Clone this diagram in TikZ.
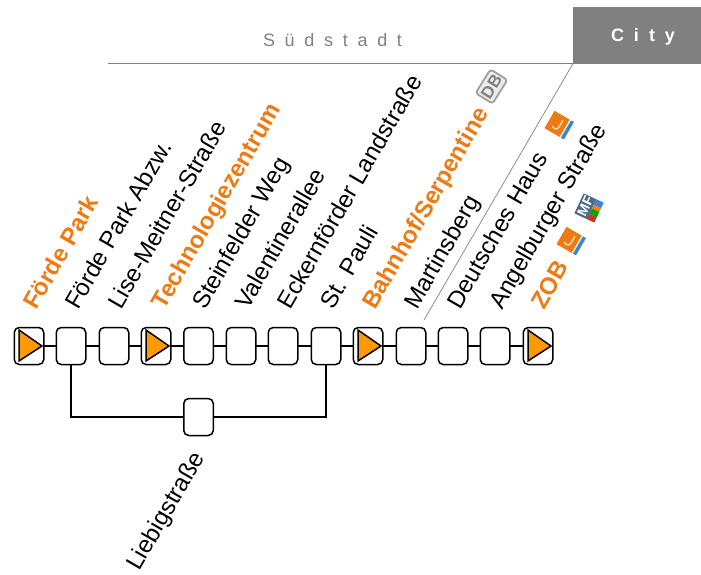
\documentclass[tikz,border=0pt]{standalone}
\usepackage{fontspec}
\setmainfont{Liberation Sans}
\definecolor{hl}{HTML}{EE7A12}
\definecolor{tri}{HTML}{FF9900}
\definecolor{zone}{HTML}{808080}
\definecolor{iconblue}{HTML}{3B86CF}
\tikzset{
  x=1pt,y=-1pt,
  stop/.style={draw=black,line width=1.5pt,rounded corners=5pt,minimum width=29.5pt,minimum height=37pt,inner sep=0pt,fill=white},
  lbl/.style={font=\fontsize{24}{28}\selectfont,rotate=60,anchor=base west,inner sep=0pt,text=black},
  major/.style={lbl,text=hl,font=\fontsize{24}{28}\selectfont\bfseries},
  conn/.style={line width=1.5pt,draw=black},
  termtri/.style={draw=black,line width=1.5pt,fill=tri,line join=miter},
  zoneline/.style={draw=zone,line width=0.7pt},
}
\newcommand{\termmark}[1]{\draw[termtri] ([shift={(-10,-16)}]#1.center) -- ([shift={(-10,15)}]#1.center) -- ([shift={(13,0)}]#1.center) -- cycle;}
\newcommand{\jicon}[1]{\begin{scope}[shift={#1},rotate=-30]
  \fill[hl] (-11,-10) rectangle (6.5,10);
  \fill[iconblue] (8,-10) rectangle (11.5,10);
  \draw[white!75!hl,line width=1.4pt] (1,-6) -- (1,2) arc[start angle=0,end angle=140,radius=3.5];
\end{scope}}
\begin{document}
\begin{tikzpicture}
\useasboundingbox (0,0) rectangle (701,574);
\node[draw=none,fill=zone,minimum width=128pt,minimum height=57pt,inner sep=0pt] (city) at (637,35.5) {};
\node[text=white,font=\fontsize{18}{22}\selectfont\bfseries] (citytxt) at (643,37) {C\hspace{10pt}i\hspace{10pt}t\hspace{10pt}y};
\node[text=zone,font=\fontsize{18}{22}\selectfont] (sued) at (332.5,40) {S\hspace{9.7pt}ü\hspace{9.7pt}d\hspace{9.7pt}s\hspace{9.7pt}t\hspace{9.7pt}a\hspace{9.7pt}d\hspace{9.7pt}t};
\coordinate (zl) at (108,63.5);
\coordinate (zm) at (573,63.5);
\coordinate (zb) at (424,320);
\draw[zoneline] (zl) -- (zm) -- (zb);

\foreach \n/\x in {a/29,b/71,c/114,d/156,e/198.5,f/241,g/283,h/326,i/368,j/411,k/453,l/495,m/538}{
  \coordinate (p\n) at (\x,346);
}
\draw[conn] (pa) -- (pm);
\foreach \n in {a,b,c,d,e,f,g,h,i,j,k,l,m}{
  \node[stop] (s\n) at (p\n) {};
}
\node[stop] (br) at (198.5,417) {};
\draw[conn] (sb.south) |- (br.west);
\draw[conn] (sh.south) |- (br.east);
\termmark{sa}\termmark{sd}\termmark{si}\termmark{sm}

\node[major] (ta) at (36.5,311) {Förde Park};
\node[lbl] (tb) at (78,311) {Förde Park Abzw.};
\node[lbl] (tc) at (121,311) {Lise-Meitner-Straße};
\node[major] (td) at (164.5,311) {Technologiezentrum};
\node[lbl] (te) at (205,311) {Steinfelder Weg};
\node[lbl] (tf) at (248,311) {Valentinerallee};
\node[lbl] (tg) at (290,311) {Eckernförder Landstraße};
\node[lbl] (th) at (333,311) {St. Pauli};
\node[major] (ti) at (375,311) {Bahnhof/Serpentine};
\node[lbl] (tj) at (417,311) {Martinsberg};
\node[lbl] (tk) at (460,311) {Deutsches Haus};
\node[lbl] (tl) at (502,311) {Angelburger Straße};
\node[major] (tm) at (544,311) {ZOB};
\node[lbl] (tbr) at (139,572) {Liebigstraße};

\begin{scope}[shift={(491.5,86.5)},rotate=58]
  \draw[gray!75,fill=gray!15,line width=1.8pt,rounded corners=3pt] (-14,-10) rectangle (14,10);
  \node[rotate=58,font=\fontsize{17}{18}\selectfont\bfseries,text=gray,inner sep=0pt] (db) at (0,0) {DB};
\end{scope}
\jicon{(559,125)}
\jicon{(571,241)}
\begin{scope}[shift={(589,208)},rotate=65]
  \fill[black!30!iconblue!60!gray] (-11,-11) rectangle (11,3);
  \fill[red!60!gray] (-11,3) rectangle (-5,11);
  \fill[green!65!black] (-5,3) rectangle (1,11);
  \fill[orange] (1,3) rectangle (5,11);
  \fill[iconblue] (5,3) rectangle (11,11);
  \node[rotate=65,text=white,font=\fontsize{14}{15}\selectfont\bfseries,inner sep=0pt] (mf) at (0,-4) {MF};
\end{scope}
\end{tikzpicture}
\end{document}
